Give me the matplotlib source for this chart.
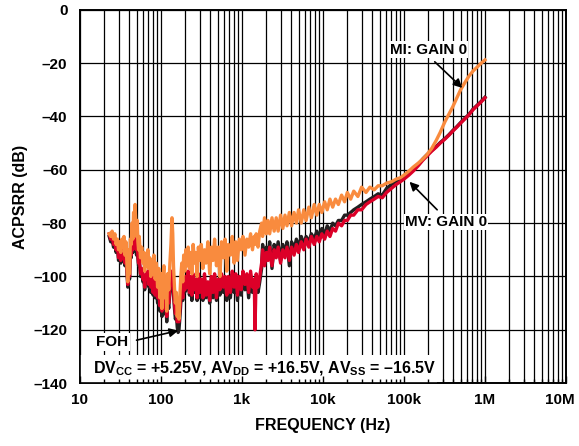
import matplotlib
matplotlib.use('Agg')

import matplotlib.pyplot as plt
from matplotlib.patches import Rectangle
from matplotlib.ticker import LogLocator, NullFormatter
from matplotlib.transforms import ScaledTranslation

plt.rcParams['font.family'] = ['Liberation Sans', 'DejaVu Sans']
plt.rcParams['font.weight'] = 'bold'
plt.rcParams['mathtext.fontset'] = 'custom'
plt.rcParams['mathtext.rm'] = 'Liberation Sans:bold'
plt.rcParams['mathtext.it'] = 'Liberation Sans:bold'
plt.rcParams['mathtext.bf'] = 'Liberation Sans:bold'

# frequency (Hz) and ACPSRR (dB), one row per chunk
freq = [23, 24, 25, 26, 27, 28, 29, 30, 31, 32, 33, 34, 35, 36, 37, 38, 39, 40,
        41, 42, 43, 44, 45, 46, 47, 48, 49, 50, 51, 52, 53, 54, 56, 58, 60, 62,
        63, 65, 67, 69, 71, 73, 75, 77, 80, 82, 85, 88, 91, 94, 97, 100, 103,
        106, 109, 112, 115, 118, 121, 125, 129, 133, 137, 140, 143, 147, 151,
        155, 159, 163, 167, 171, 176, 181, 186, 191, 197, 203, 210, 217, 225,
        233, 241, 250, 260, 270, 280, 290, 300, 315, 330, 345, 360, 380, 400,
        420, 440, 460, 485, 510, 535, 560, 590, 620, 650, 680, 720, 760, 800,
        840, 880, 930, 980, 1030, 1090, 1150, 1210, 1280, 1350, 1420, 1450,
        1500, 1580, 1660, 1750, 1800, 1900, 2000, 2100, 2200, 2350, 2500, 2650,
        2800, 3000, 3200, 3400, 3600, 3850, 4100, 4400, 4700, 5000, 5400, 5800,
        6200, 6700, 7200, 7800, 8400, 9000, 9700, 10500, 11300, 12200, 13200,
        14300, 15500, 17000, 18500, 20000, 22000, 24000, 27000, 30000, 34000,
        38000, 43000, 48000, 54000, 61000, 70000, 80000, 90000, 100000, 115000,
        130000, 150000, 170000, 190000, 220000, 250000, 280000, 320000, 360000,
        400000, 450000, 500000, 560000, 630000, 710000, 800000, 900000, 1000000]

mi_gain0 = [-84, -85, -83, -86, -84, -88, -86, -90, -87, -91, -86, -89, -85, -92, -87, -95, -102, -90,
            -99, -86, -88, -80, -86, -76, -84, -73, -80, -85, -79, -87, -90, -85, -93, -89, -95, -91,
            -98, -92, -96, -90, -97, -93, -100, -94, -99, -92, -101, -95, -104, -97, -108, -99, -112,
            -100, -96, -108, -101, -113, -99, -105, -95, -88, -78, -84, -96, -104, -110,
            -106, -115, -112, -116, -108, -100, -95, -102, -92, -98, -90, -96, -89, -97,
            -91, -99, -88, -95, -91, -100, -89, -94, -88, -97, -90, -95, -87, -99,
            -89, -94, -86, -96, -89, -100, -87, -93, -86, -98, -88, -92, -85, -95,
            -87, -94, -86, -90, -85, -92, -86, -89, -84, -90, -85, -88,
            -84, -89, -83, -80, -85, -78, -84, -79, -84, -78, -83, -78,
            -83, -77, -82, -77, -81, -76, -81, -76, -80, -75, -80, -75,
            -79, -74, -78, -73, -77, -73, -76, -72, -75, -71, -74,
            -71, -73, -69.5, -72, -68.5, -71, -68, -70, -66.5, -68.5,
            -66.5, -67.5, -66, -66, -65, -64.5, -63.5, -63, -62, -60.5,
            -59, -57.5, -56, -54.5, -52, -49, -46, -42, -39,
            -36.4, -33, -30, -27.5, -25, -23, -21.5, -20, -18.8]

mv_gain0 = [-84, -86, -85, -88, -87, -90, -88, -93, -89, -94, -90, -92, -88, -95, -90, -97, -103, -93,
            -100, -90, -92, -87, -90, -86, -89, -85, -88, -90, -88, -92, -95, -93, -99, -97, -101, -100,
            -104, -99, -101, -98, -103, -100, -104, -101, -106, -100, -107, -103, -108, -104, -111, -106, -113,
            -107, -104, -112, -108, -115, -107, -110, -104, -101, -98, -100, -105, -110, -114,
            -112, -117, -116, -117, -113, -108, -104, -108, -101, -105, -100, -104, -98, -106,
            -100, -107, -99, -105, -101, -108, -99, -106, -101, -108, -99, -107, -102, -109,
            -100, -106, -99, -108, -101, -105, -99, -104, -100, -107, -100, -106, -98, -104,
            -99, -107, -100, -105, -98, -103, -99, -106, -98, -104, -101, -120,
            -99, -104, -100, -95, -90, -96, -91, -94, -89, -96, -90, -93,
            -89, -95, -90, -93, -89, -94, -89, -92, -88, -91, -87, -90,
            -86, -89, -85, -88, -85, -87, -84, -86, -83, -85, -82,
            -83, -80, -81, -79, -79, -77, -77, -75, -75, -73,
            -72, -71, -70, -70.5, -68.5, -67, -65.5, -64.5, -63.5, -62,
            -60.5, -58.5, -56.5, -55, -53, -51.5, -50, -48.5, -47,
            -45.5, -44, -42.5, -41, -39.5, -37.5, -36, -34.5, -33]

foh = [-85, -87, -86, -89, -88, -91, -89, -94, -90, -95, -91, -93, -89, -96, -91, -98, -104, -94,
       -101, -91, -93, -88, -91, -87, -90, -86, -89, -92, -89, -93, -96, -94, -100, -98, -102, -101,
       -105, -100, -103, -99, -104, -102, -106, -103, -107, -101, -108, -104, -110, -106, -113, -108, -115,
       -109, -106, -114, -110, -117, -109, -112, -106, -103, -100, -102, -107, -112, -116,
       -114, -119, -121, -120, -116, -110, -106, -109, -103, -106, -101, -105, -100, -107,
       -101, -109, -100, -106, -103, -109, -100, -108, -102, -109, -101, -108, -103, -110,
       -101, -108, -100, -109, -103, -107, -100, -106, -102, -109, -102, -108, -99, -106,
       -101, -109, -101, -107, -99, -105, -100, -108, -100, -106, -102, -106,
       -101, -106, -102, -97, -88, -95, -89, -93, -87, -97, -88, -92,
       -87, -94, -88, -92, -87, -96, -87, -90, -86, -89, -85, -88,
       -85, -87, -84, -86, -83, -85, -82, -84, -81, -83, -80,
       -81, -79, -79, -77, -77, -76, -75, -74, -73, -72,
       -71, -70, -69, -69.5, -67, -65.5, -64.5, -63.5, -62.5, -61,
       -59.5, -58, -56, -54.5, -52.8, -51.3, -49.8, -48.3, -46.8,
       -45.3, -43.8, -42.3, -40.8, -39.3, -37.3, -35.8, -34.3, -32.8]

xticks = [10, 100, 1e3, 1e4, 1e5, 1e6, 1e7]
xticklabels = ['10', '100', '1k', '10k', '100k', '1M', '10M']
yticks = [0, -20, -40, -60, -80, -100, -120, -140]

fig = plt.figure(figsize=(5.79, 4.46), dpi=100)
rect = [0.138, 0.141, 0.8395, 0.837]
ax = fig.add_axes(rect)

ax.set_xscale('log')
ax.set_xlim(10, 1e7)
ax.set_ylim(-140, 0)

ax.plot(freq, foh, color='#231f20', lw=2.4, zorder=2)
ax.plot(freq, mv_gain0, color='#dc0028', lw=2.4, zorder=3)
ax.plot(freq, mi_gain0, color='#f98b3e', lw=2.4, zorder=4)

ax.set_xticks(xticks)
ax.set_xticklabels(xticklabels)
ax.set_yticks(yticks)
ax.set_yticklabels([str(v) if v == 0 else '\u2013' + str(-v) for v in yticks])
ax.xaxis.set_minor_locator(LogLocator(base=10, subs=range(2, 10), numticks=20))
ax.xaxis.set_minor_formatter(NullFormatter())
ax.tick_params(axis='both', which='both', length=0, labelsize=11)
ax.tick_params(axis='x', pad=7)
ax.tick_params(axis='y', pad=9)
ax.grid(True, which='major', color='black', lw=0.9)
ax.grid(True, which='minor', axis='x', color='black', lw=0.9)
ax.set_axisbelow(True)
for s in ax.spines.values():
    s.set_linewidth(1.2)

# last label sits a little to the left so it stays inside the figure
last = ax.get_xticklabels()[-1]
last.set_transform(last.get_transform() + ScaledTranslation(-0.06, 0, fig.dpi_scale_trans))

ax.set_xlabel('FREQUENCY (Hz)', fontsize=11.5, fontweight='bold', labelpad=8)
ax.set_ylabel('ACPSRR (dB)', fontsize=11.5, fontweight='bold', labelpad=4)

# white box behind the supply conditions
ax.add_patch(Rectangle((0, 0), 0.735, 0.075, transform=ax.transAxes,
                       facecolor='white', edgecolor='none', zorder=5))
ax.text(0.38, 0.038,
        'DV$_{\\rm CC}$ = +5.25V, AV$_{\\rm DD}$ = +16.5V, AV$_{\\rm SS}$ = \u201316.5V',
        transform=ax.transAxes, ha='center', va='center', fontsize=11.5,
        fontweight='bold', zorder=6)

arrow = dict(arrowstyle='-|>', color='black', lw=1.2, mutation_scale=13,
             shrinkA=0, shrinkB=0)
ax.text(199e3, -15, 'MI: GAIN 0', ha='center', va='center', fontsize=11,
        fontweight='bold', zorder=6,
        bbox=dict(facecolor='white', edgecolor='none', pad=1))
ax.annotate('', xy=(525e3, -29.3), xytext=(240e3, -19.5), arrowprops=arrow, zorder=6)
ax.text(330e3, -79.6, 'MV: GAIN 0', ha='center', va='center', fontsize=11,
        fontweight='bold', zorder=6,
        bbox=dict(facecolor='white', edgecolor='none', pad=1))
ax.annotate('', xy=(117e3, -64.5), xytext=(257e3, -75), arrowprops=arrow, zorder=6)
ax.text(25, -124.6, 'FOH', ha='center', va='center', fontsize=11,
        fontweight='bold', zorder=6,
        bbox=dict(facecolor='white', edgecolor='none', pad=1.5))
ax.annotate('', xy=(164, -120.3), xytext=(50, -123.9), arrowprops=arrow, zorder=6)

# inward tick marks drawn on top of the white boxes
ax2 = fig.add_axes(rect)
ax2.set_xscale('log')
ax2.set_xlim(10, 1e7)
ax2.set_ylim(-140, 0)
ax2.patch.set_visible(False)
ax2.set_xticks(xticks)
ax2.xaxis.set_minor_locator(LogLocator(base=10, subs=range(2, 10), numticks=20))
ax2.set_yticks([])
ax2.tick_params(axis='x', which='major', direction='in', length=5, width=1,
                labelbottom=False)
ax2.tick_params(axis='x', which='minor', direction='in', length=3, width=1,
                labelbottom=False)
for s in ax2.spines.values():
    s.set_linewidth(1.2)

plt.savefig('out.png', dpi=100)
